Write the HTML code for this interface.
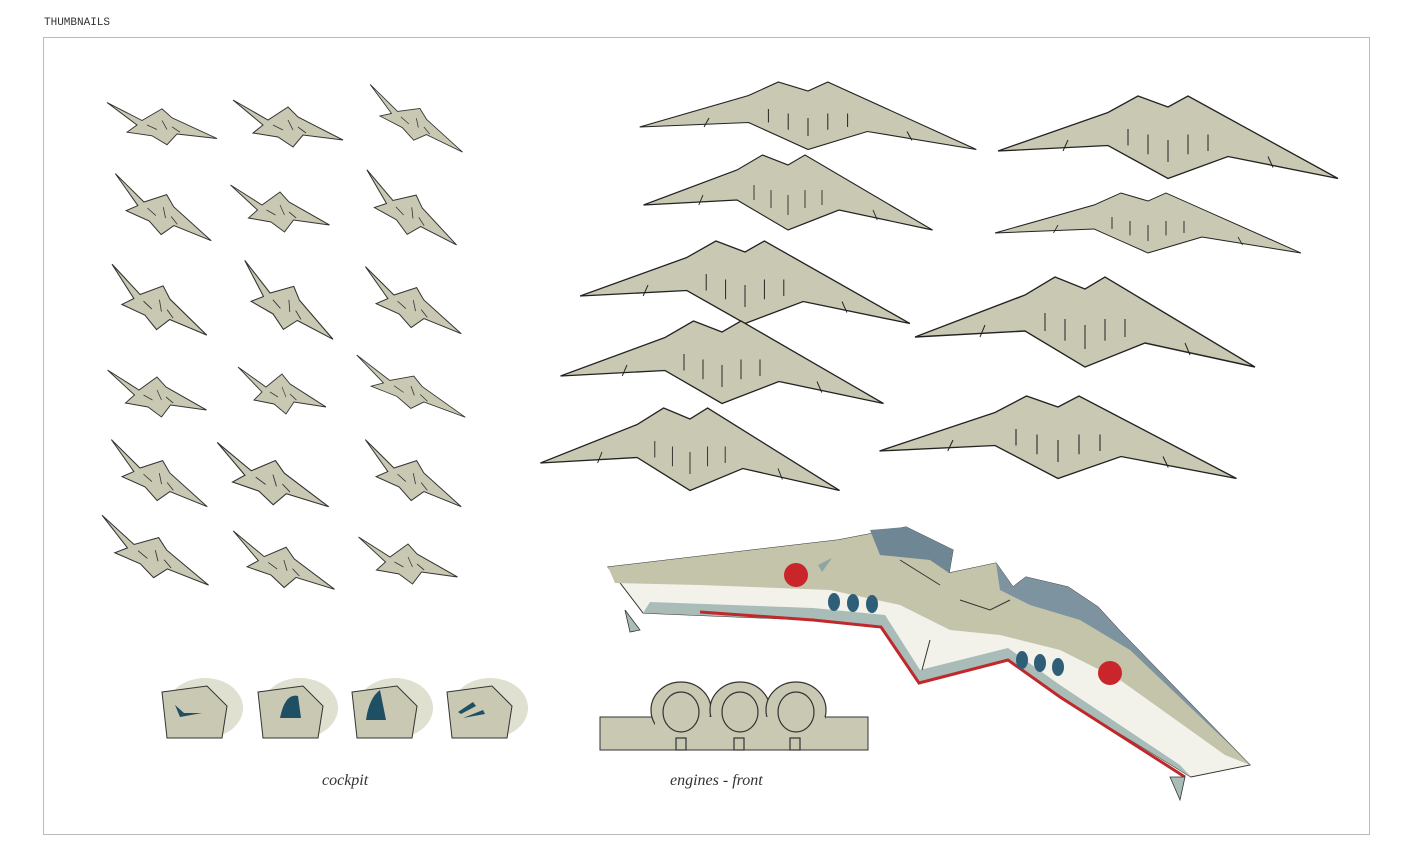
<!DOCTYPE html>
<html><head><meta charset="utf-8"><style>
html,body{margin:0;padding:0;background:#fff;}
svg{display:block}
</style></head><body>
<svg width="1406" height="863" viewBox="0 0 1406 863" xmlns="http://www.w3.org/2000/svg">
<defs>
<g id="t">
<polygon points="-55,-25 -20,-5 0,-18 10,-8 55,15 15,10 5,22 -10,12 -35,8 -25,0" fill="#c9c8b2" stroke="#333" stroke-width="1"/>
<path d="M-15,0 l10,5 M0,-5 l5,10 M10,2 l8,6" stroke="#333" stroke-width="0.8" fill="none"/>
</g>
<g id="b">
<polygon points="-170,10 -60,-25 -30,-40 0,-30 20,-40 50,-25 170,35 60,15 30,25 0,35 -30,20 -60,5" fill="#c9c8b2" stroke="#222" stroke-width="1.2"/>
<path d="M-40,-10 l0,15 M-20,-5 l0,18 M0,0 l0,20 M20,-5 l0,18 M40,-5 l0,15 M-100,0 l-5,10 M100,15 l5,10" stroke="#222" stroke-width="1" fill="none"/>
</g>
</defs>
<rect x="43.5" y="37.5" width="1326" height="797" fill="none" stroke="#bbb" stroke-width="1"/>
<text x="44" y="25" font-family="Liberation Mono, monospace" font-size="11" fill="#333">THUMBNAILS</text>

<use href="#t" transform="translate(162,125) scale(1,0.9)"/>
<use href="#t" transform="translate(288,125) scale(1,1)"/>
<use href="#t" transform="translate(415,122) rotate(20) scale(1,0.8)"/>
<use href="#t" transform="translate(162,212) rotate(15) scale(1,1)"/>
<use href="#t" transform="translate(280,210) scale(0.9,1)"/>
<use href="#t" transform="translate(410,212) rotate(20) scale(1,1)"/>
<use href="#t" transform="translate(158,305) rotate(15) scale(1,1.1)"/>
<use href="#t" transform="translate(287,305) rotate(20) scale(1,1.1)"/>
<use href="#t" transform="translate(412,305) rotate(15) scale(1,1)"/>
<use href="#t" transform="translate(157,395) scale(0.9,1)"/>
<use href="#t" transform="translate(282,392) scale(0.8,1)"/>
<use href="#t" transform="translate(410,390) rotate(15) scale(1.1,0.8)"/>
<use href="#t" transform="translate(158,478) rotate(15) scale(1,1)"/>
<use href="#t" transform="translate(272,480) rotate(10) scale(1.1,1.1)"/>
<use href="#t" transform="translate(412,478) rotate(15) scale(1,1)"/>
<use href="#t" transform="translate(154,555) rotate(15) scale(1.1,1)"/>
<use href="#t" transform="translate(283,565) rotate(10) scale(1,1)"/>
<use href="#t" transform="translate(408,562) scale(0.9,1)"/>

<use href="#b" transform="translate(808,118) scale(0.99,0.9)"/>
<use href="#b" transform="translate(788,195) scale(0.85,1)"/>
<use href="#b" transform="translate(745,285) scale(0.97,1.1)"/>
<use href="#b" transform="translate(722,365) scale(0.95,1.1)"/>
<use href="#b" transform="translate(690,452) scale(0.88,1.1)"/>
<use href="#b" transform="translate(1168,140) scale(1,1.1)"/>
<use href="#b" transform="translate(1148,225) scale(0.9,0.8)"/>
<use href="#b" transform="translate(1085,325) scale(1,1.2)"/>
<use href="#b" transform="translate(1058,440) scale(1.05,1.1)"/>

<!-- big colored ship -->
<polygon points="608,567 838,540 906,527 953,550 949,573 996,563 1013,587 1026,577 1068,587 1098,607 1119,630 1250,765 1191,777 1060,697 1008,660 919,683 881,627 813,620 643,613" fill="#f3f2ea" stroke="#333" stroke-width="1"/>
<polygon points="608,567 838,540 906,527 953,550 949,573 996,563 1013,587 1026,577 1068,587 1098,607 1119,630 1250,765 1225,755 1120,680 1060,650 1000,635 950,630 900,605 830,590 700,585 615,583" fill="#c4c4ab"/>
<polygon points="870,530 906,527 953,550 949,573 930,560 880,555" fill="#6f8795"/>
<polygon points="996,563 1013,587 1026,577 1068,587 1098,607 1119,630 1250,765 1230,745 1130,650 1080,620 1030,605 1000,590" fill="#7d93a0"/>
<polygon points="643,613 813,620 881,627 919,683 1008,660 1060,697 1191,777 1180,765 1060,685 1008,648 920,670 885,615 813,608 650,602" fill="#a9bcb8"/>
<polyline points="700,612 813,620 881,627 919,683 1008,660 1060,697 1185,777" fill="none" stroke="#c0292b" stroke-width="3"/>
<polygon points="818,565 832,558 822,572" fill="#8fa5a5"/>
<circle cx="796" cy="575" r="12" fill="#c9262b"/>
<circle cx="1110" cy="673" r="12" fill="#c9262b"/>
<g fill="#2f5f78"><ellipse cx="834" cy="602" rx="6" ry="9"/><ellipse cx="853" cy="603" rx="6" ry="9"/><ellipse cx="872" cy="604" rx="6" ry="9"/><ellipse cx="1022" cy="660" rx="6" ry="9"/><ellipse cx="1040" cy="663" rx="6" ry="9"/><ellipse cx="1058" cy="667" rx="6" ry="9"/></g>
<path d="M930,640 l-8,30 M960,600 l30,10 l20,-10 M900,560 l40,25" stroke="#333" fill="none"/>
<polygon points="625,610 640,630 630,632" fill="#a9bcb8" stroke="#333" stroke-width="0.8"/>
<polygon points="1170,777 1180,800 1185,777" fill="#a9bcb8" stroke="#333" stroke-width="0.8"/>

<!-- cockpits -->
<g fill="#dfe0d0"><ellipse cx="205" cy="708" rx="38" ry="30"/><ellipse cx="300" cy="708" rx="38" ry="30"/><ellipse cx="395" cy="708" rx="38" ry="30"/><ellipse cx="490" cy="708" rx="38" ry="30"/></g>
<g fill="#c9c8b2" stroke="#333" stroke-width="1">
<path d="M162,692 l45,-6 l20,20 l-5,32 l-55,0 z"/>
<path d="M258,692 l45,-6 l20,20 l-5,32 l-55,0 z"/>
<path d="M352,692 l45,-6 l20,20 l-5,32 l-55,0 z"/>
<path d="M447,692 l45,-6 l20,20 l-5,32 l-55,0 z"/>
</g>
<g fill="#1f4f63"><path d="M175,705 l5,12 l22,-4 l-18,0z"/><path d="M280,718 q5,-25 18,-22 l3,22z"/><path d="M366,720 q3,-22 14,-30 l6,30z"/><path d="M458,712 l15,-10 l3,4 l-15,8z M463,718 l20,-8 l2,4z"/></g>

<!-- engines front -->
<rect x="600" y="717" width="268" height="33" fill="#c9c8b2" stroke="#333"/>
<g fill="#c9c8b2" stroke="#333" stroke-width="1.2">
<ellipse cx="681" cy="710" rx="30" ry="28"/><ellipse cx="740" cy="710" rx="30" ry="28"/><ellipse cx="796" cy="710" rx="30" ry="28"/>
</g>
<rect x="655" y="717" width="170" height="25" fill="#c9c8b2"/>
<g fill="none" stroke="#333" stroke-width="1.2">
<ellipse cx="681" cy="712" rx="18" ry="20"/><ellipse cx="740" cy="712" rx="18" ry="20"/><ellipse cx="796" cy="712" rx="18" ry="20"/>
<rect x="676" y="738" width="10" height="12"/><rect x="734" y="738" width="10" height="12"/><rect x="790" y="738" width="10" height="12"/>
</g>
<text x="322" y="785" font-family="Liberation Serif, serif" font-style="italic" font-size="16" fill="#333">cockpit</text>
<text x="670" y="785" font-family="Liberation Serif, serif" font-style="italic" font-size="16" fill="#333">engines - front</text>
</svg>
</body></html>
